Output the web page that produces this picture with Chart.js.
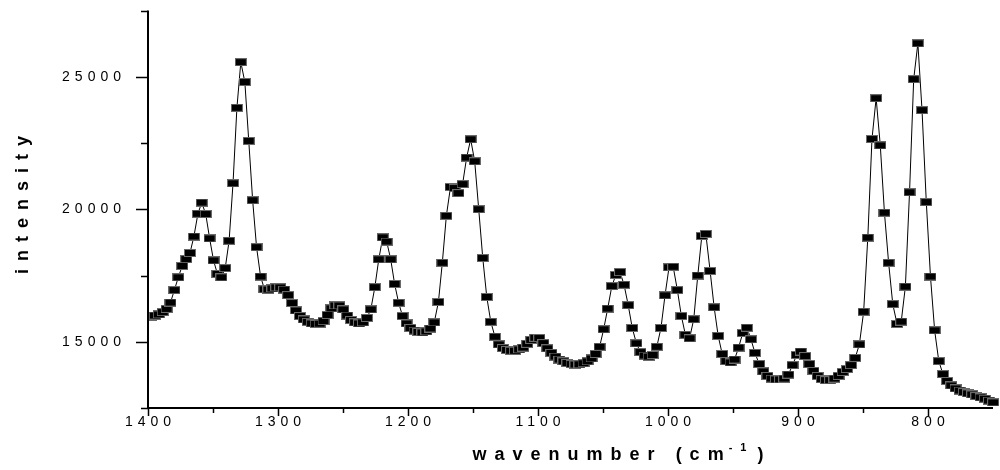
<!DOCTYPE html>
<html>
<head>
<meta charset="utf-8">
<title>Raman spectrum</title>
<script src="https://cdn.jsdelivr.net/npm/chart.js@4.4.1/dist/chart.umd.min.js"></script>
<style>
  html, body { margin: 0; padding: 0; background: #fff; }
  #wrap { width: 1000px; height: 470px; }
</style>
</head>
<body>
<div id="wrap"><canvas id="spectrum" width="1000" height="470"></canvas></div>
<script>
// measured spectrum, wavenumber in cm-1 (high to low)
const wavenumbers = [
  1397.7, 1394.7, 1391.7, 1388.7, 1385.7, 1382.7, 1379.7, 1376.7, 1373.7, 1370.6,
  1367.7, 1364.7, 1361.6, 1358.7, 1355.6, 1352.6, 1349.6, 1346.6, 1343.6, 1340.6,
  1337.6, 1334.6, 1331.6, 1328.6, 1325.5, 1322.5, 1319.5, 1316.5, 1313.4, 1310.4,
  1307.4, 1304.3, 1301.3, 1298.3, 1295.3, 1292.2, 1289.2, 1286.2, 1283.1, 1280.1,
  1277.1, 1274.0, 1271.0, 1268.0, 1265.0, 1261.9, 1258.9, 1255.9, 1252.8, 1249.8,
  1246.8, 1243.8, 1240.7, 1237.7, 1234.7, 1231.6, 1228.6, 1225.5, 1222.5, 1219.4,
  1216.4, 1213.3, 1210.3, 1207.2, 1204.2, 1201.1, 1198.1, 1195.0, 1192.0, 1188.9,
  1185.9, 1182.8, 1179.8, 1176.6, 1173.6, 1170.5, 1167.3, 1164.2, 1161.2, 1158.0,
  1154.9, 1151.8, 1148.7, 1145.6, 1142.5, 1139.4, 1136.3, 1133.1, 1130.1, 1127.0,
  1123.8, 1120.7, 1117.7, 1114.5, 1111.4, 1108.3, 1105.2, 1102.1, 1099.0, 1095.9,
  1092.8, 1089.7, 1086.6, 1083.5, 1080.4, 1077.4, 1074.2, 1071.2, 1068.1, 1065.0,
  1061.9, 1058.8, 1055.7, 1052.6, 1049.5, 1046.4, 1043.2, 1040.1, 1036.9, 1033.8,
  1030.6, 1027.5, 1024.3, 1021.2, 1018.0, 1014.9, 1011.8, 1008.6, 1005.4, 1002.3,
  999.2, 996.0, 992.8, 989.7, 986.6, 983.4, 980.2, 977.1, 974.0, 970.9,
  967.6, 964.5, 961.4, 958.3, 955.1, 951.9, 948.8, 945.7, 942.5, 939.3,
  936.2, 933.1, 929.9, 926.7, 923.5, 920.3, 917.0, 913.8, 910.6, 907.4,
  904.2, 901.0, 897.8, 894.5, 891.3, 888.1, 884.9, 881.7, 878.5, 875.3,
  872.0, 868.8, 865.6, 862.4, 859.2, 856.0, 852.8, 849.5, 846.3, 843.1,
  839.9, 836.7, 833.5, 830.3, 827.1, 823.8, 820.6, 817.4, 814.2, 811.0,
  807.8, 804.6, 801.3, 798.1, 794.9, 791.7, 788.5, 785.3, 782.1, 778.8,
  775.6, 772.4, 769.2, 766.0, 762.8, 759.6, 756.3, 753.1, 749.9
];

const intensities = [
  15950, 15990, 16030, 16120, 16240, 16480, 16950, 17430, 17860, 18120,
  18350, 18970, 19830, 20250, 19820, 18900, 18070, 17560, 17430, 17780,
  18810, 20980, 23830, 25550, 24800, 22580, 20340, 18570, 17460, 16980,
  16970, 17010, 17050, 17050, 16970, 16760, 16460, 16180, 15970, 15840,
  15750, 15690, 15670, 15680, 15780, 16010, 16260, 16370, 16370, 16220,
  15990, 15820, 15730, 15690, 15730, 15900, 16220, 17060, 18110, 18940,
  18780, 18110, 17180, 16470, 15970, 15690, 15520, 15420, 15370, 15350,
  15390, 15500, 15730, 16500, 17980, 19750, 20840, 20800, 20610, 20950,
  21950, 22640, 21810, 20000, 18160, 16690, 15750, 15190, 14900, 14760,
  14690, 14660, 14660, 14710, 14780, 14920, 15070, 15150, 15140, 14950,
  14750, 14580, 14440, 14330, 14260, 14200, 14160, 14140, 14150, 14190,
  14260, 14370, 14540, 14810, 15470, 16250, 17100, 17520, 17630, 17150,
  16380, 15520, 14940, 14610, 14480, 14440, 14500, 14810, 15520, 16750,
  17810, 17830, 16950, 15970, 15260, 15130, 15850, 17500, 18990, 19070,
  17670, 16300, 15220, 14540, 14270, 14220, 14330, 14780, 15330, 15530,
  15090, 14580, 14160, 13880, 13710, 13610, 13580, 13580, 13610, 13760,
  14120, 14500, 14630, 14460, 14160, 13900, 13710, 13590, 13550, 13550,
  13610, 13710, 13860, 13970, 14120, 14390, 14900, 16130, 18930, 22650,
  24190, 22410, 19870, 17980, 16420, 15670, 15760, 17080, 20640, 24910,
  26260, 23740, 20270, 17460, 15430, 14270, 13780, 13520, 13350, 13240,
  13160, 13100, 13050, 13010, 12950, 12900, 12850, 12780, 12710
];

// labelled ticks; the ones in between only get a short mark
const xLabelTicks = [1400, 1300, 1200, 1100, 1000, 900, 800];
const yLabelTicks = [15000, 20000, 25000];

const tickFont = "'Liberation Sans', Arial, sans-serif";

// filled black rectangle used as point marker
function makeMarker() {
  const c = document.createElement('canvas');
  c.width = 12;
  c.height = 8;
  const g = c.getContext('2d');
  g.fillStyle = '#6a6a6a';
  g.fillRect(0, 0, 12, 8);
  g.fillStyle = '#000';
  g.fillRect(1, 1, 10, 6);
  return c;
}

// axis lines, tick marks and axis titles drawn by hand
const axesPlugin = {
  id: 'handAxes',
  beforeLayout(chart) {
    chart.ctx.letterSpacing = '5px';
  },
  beforeDraw(chart) {
    chart.ctx.letterSpacing = '5px';
  },
  afterDraw(chart) {
    const { ctx, chartArea, scales } = chart;
    const left = chartArea.left;
    const bottom = chartArea.bottom;

    ctx.save();
    ctx.strokeStyle = '#000';
    ctx.lineWidth = 2;
    ctx.beginPath();
    ctx.moveTo(left, chartArea.top);
    ctx.lineTo(left, bottom + 1);
    ctx.moveTo(left - 1, bottom);
    ctx.lineTo(chartArea.right, bottom);
    ctx.stroke();

    ctx.lineWidth = 1.5;
    ctx.beginPath();
    scales.x.ticks.forEach(t => {
      const px = Math.round(scales.x.getPixelForValue(t.value)) + 0.5;
      if (px > chartArea.right - 1) return;
      const len = xLabelTicks.includes(t.value) ? 8 : 5;
      ctx.moveTo(px, bottom);
      ctx.lineTo(px, bottom + len);
    });
    scales.y.ticks.forEach(t => {
      const py = Math.round(scales.y.getPixelForValue(t.value)) + 0.5;
      const len = yLabelTicks.includes(t.value) ? 12 : 7;
      ctx.moveTo(left, py);
      ctx.lineTo(left - len, py);
    });
    ctx.stroke();

    // x title with superscript unit
    ctx.fillStyle = '#000';
    ctx.letterSpacing = '8px';
    ctx.textBaseline = 'alphabetic';
    ctx.textAlign = 'left';
    const mainFont = "bold 18px " + tickFont;
    const supFont = "bold 11px " + tickFont;
    const mainText = 'wavenumber (cm';
    const supText = '-1';
    const closeText = ')';
    ctx.font = mainFont;
    const w1 = ctx.measureText(mainText).width;
    const w3 = ctx.measureText(closeText).width;
    ctx.font = supFont;
    const w2 = ctx.measureText(supText).width;
    const total = w1 + w2 + w3 - 8;
    let x = 618 - total / 2;
    const base = 460;
    ctx.font = mainFont;
    ctx.fillText(mainText, x, base);
    x += w1;
    ctx.font = supFont;
    ctx.fillText(supText, x - 3, base - 9);
    x += w2;
    ctx.font = mainFont;
    ctx.fillText(closeText, x, base);

    // y title
    ctx.translate(28, 205);
    ctx.rotate(-Math.PI / 2);
    ctx.letterSpacing = '8px';
    ctx.font = mainFont;
    ctx.textAlign = 'center';
    ctx.fillText('intensity', 4, 0);
    ctx.restore();
  }
};

const points = wavenumbers.map((w, i) => ({ x: w, y: intensities[i] }));

new Chart(document.getElementById('spectrum'), {
  type: 'line',
  data: {
    datasets: [{
      data: points,
      borderColor: '#000',
      borderWidth: 1,
      tension: 0,
      pointStyle: makeMarker(),
      pointRadius: 6,
      pointHoverRadius: 6,
      clip: { left: 0, top: false, right: false, bottom: false }
    }]
  },
  options: {
    responsive: false,
    animation: false,
    events: [],
    layout: { padding: { top: 10.5, right: 0, bottom: 0, left: 0 } },
    plugins: {
      legend: { display: false },
      tooltip: { enabled: false }
    },
    scales: {
      x: {
        type: 'linear',
        reverse: true,
        min: 750,
        max: 1400,
        afterFit(scale) {
          scale.height = 62;
          scale.paddingLeft = 0;
          scale.paddingRight = 0;
        },
        grid: { display: false, drawTicks: false },
        border: { display: false },
        ticks: {
          stepSize: 50,
          autoSkip: false,
          maxRotation: 0,
          padding: 6,
          labelOffset: 2.5,
          color: '#000',
          font: { family: tickFont, size: 14 },
          callback: v => xLabelTicks.includes(v) ? String(v) : ''
        }
      },
      y: {
        type: 'linear',
        min: 12500,
        max: 27500,
        afterFit(scale) {
          scale.width = 148;
          scale.paddingTop = 0;
          scale.paddingBottom = 0;
        },
        grid: { display: false, drawTicks: false },
        border: { display: false },
        ticks: {
          stepSize: 2500,
          autoSkip: false,
          padding: 22,
          color: '#000',
          font: { family: tickFont, size: 14 },
          callback: v => yLabelTicks.includes(v) ? String(v) : ''
        }
      }
    }
  },
  plugins: [axesPlugin]
});
</script>
</body>
</html>
